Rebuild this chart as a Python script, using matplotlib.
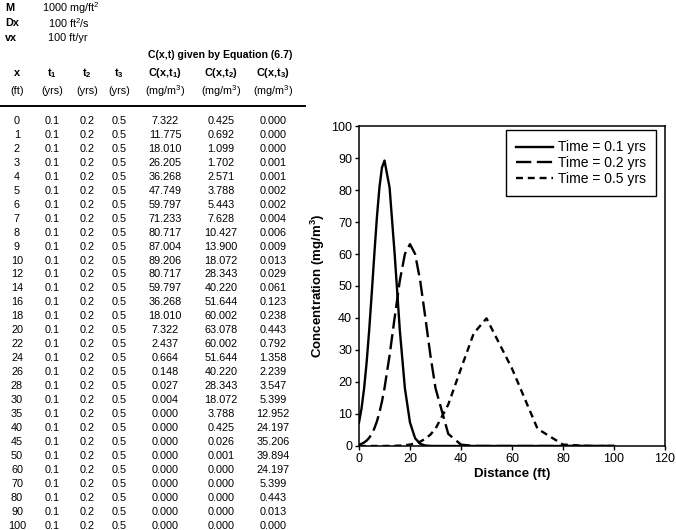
import matplotlib
matplotlib.use("Agg")
import matplotlib.pyplot as plt

plt.rcParams['font.family'] = ['Liberation Sans', 'DejaVu Sans']
plt.rcParams['mathtext.default'] = 'regular'
plt.rcParams['lines.scale_dashes'] = False

# model parameters
params = [("M", "1000 mg/ft$^2$"), ("Dx", "100 ft$^2$/s"), ("vx", "100 ft/yr")]

# table data
dist = [0, 1, 2, 3, 4, 5, 6, 7, 8, 9, 10, 12, 14, 16, 18, 20, 22, 24, 26, 28, 30,
        35, 40, 45, 50, 60, 70, 80, 90, 100]
t1 = [0.1] * len(dist)
t2 = [0.2] * len(dist)
t3 = [0.5] * len(dist)
c1 = [7.322, 11.775, 18.010, 26.205, 36.268, 47.749, 59.797, 71.233, 80.717, 87.004,
      89.206, 80.717, 59.797, 36.268, 18.010, 7.322, 2.437, 0.664, 0.148, 0.027,
      0.004, 0.000, 0.000, 0.000, 0.000, 0.000, 0.000, 0.000, 0.000, 0.000]
c2 = [0.425, 0.692, 1.099, 1.702, 2.571, 3.788, 5.443, 7.628, 10.427, 13.900,
      18.072, 28.343, 40.220, 51.644, 60.002, 63.078, 60.002, 51.644, 40.220, 28.343,
      18.072, 3.788, 0.425, 0.026, 0.001, 0.000, 0.000, 0.000, 0.000, 0.000]
c3 = [0.000, 0.000, 0.000, 0.001, 0.001, 0.002, 0.002, 0.004, 0.006, 0.009,
      0.013, 0.029, 0.061, 0.123, 0.238, 0.443, 0.792, 1.358, 2.239, 3.547,
      5.399, 12.952, 24.197, 35.206, 39.894, 24.197, 5.399, 0.443, 0.013, 0.000]

col_heads = ["x", "t$_1$", "t$_2$", "t$_3$", "C(x,t$_1$)", "C(x,t$_2$)", "C(x,t$_3$)"]
col_units = ["(ft)", "(yrs)", "(yrs)", "(yrs)", "(mg/m$^3$)", "(mg/m$^3$)", "(mg/m$^3$)"]
series_labels = ["Time = 0.1 yrs", "Time = 0.2 yrs", "Time = 0.5 yrs"]

W, H = 676, 530
fig = plt.figure(figsize=(W / 100, H / 100), dpi=100)
fig.patch.set_facecolor('white')


def px(x):
    return x / W


def py(y):
    return 1 - y / H


fs = 7.8

# parameter block
for i, (name, val) in enumerate(params):
    y = 8 + 15 * i
    fig.text(px(5), py(y), name, fontsize=fs, fontweight='bold', va='center')
    fig.text(px(42 if i == 0 else 48), py(y), val, fontsize=fs, va='center')

fig.text(px(220), py(55), "C(x,t) given by Equation (6.7)", fontsize=7.6,
         fontweight='bold', ha='center', va='center')

col_x = [17, 52, 87, 119, 165, 221, 273]
for cx, head, unit in zip(col_x, col_heads, col_units):
    fig.text(px(cx), py(73), head, fontsize=fs, fontweight='bold', ha='center', va='center')
    fig.text(px(cx), py(91), unit, fontsize=fs, ha='center', va='center')

fig.add_artist(plt.Line2D([0, px(305)], [py(106), py(106)], color='black', lw=1.4))

for i in range(len(dist)):
    y = 121 + 13.95 * i
    row = [f"{dist[i]}", f"{t1[i]}", f"{t2[i]}", f"{t3[i]}",
           f"{c1[i]:.3f}", f"{c2[i]:.3f}", f"{c3[i]:.3f}"]
    for cx, txt in zip(col_x, row):
        fig.text(px(cx), py(y), txt, fontsize=fs, ha='center', va='center')

# chart
ax = fig.add_axes([359 / W, (H - 446) / H, 306 / W, 320 / H])
ax.plot(dist, c1, color='black', lw=1.7, label=series_labels[0])
ax.plot(dist, c2, color='black', lw=1.7, dashes=(11, 4), label=series_labels[1])
ax.plot(dist, c3, color='black', lw=1.7, dashes=(5, 3.5), label=series_labels[2])

ax.set_xlim(0, 120)
ax.set_ylim(0, 100)
ax.set_xticks(range(0, 121, 20))
ax.set_yticks(range(0, 101, 10))
ax.tick_params(labelsize=9, direction='out', length=3, width=1, pad=2)
for s in ax.spines.values():
    s.set_linewidth(1.1)
    s.set_color('black')

ax.set_xlabel("Distance (ft)", fontsize=9.5, fontweight='bold', labelpad=2)
ax.set_ylabel("Concentration (mg/m$^3$)", fontsize=9.5, fontweight='bold', labelpad=3)

leg = ax.legend(loc='upper right', bbox_to_anchor=(0.971, 0.9875), borderaxespad=0,
                fancybox=False, edgecolor='black', fontsize=10, handlelength=2.7,
                labelspacing=0.12, handletextpad=0.3, borderpad=0.75, framealpha=1)
leg.get_frame().set_linewidth(1.0)

fig.savefig("out.png", dpi=100)
